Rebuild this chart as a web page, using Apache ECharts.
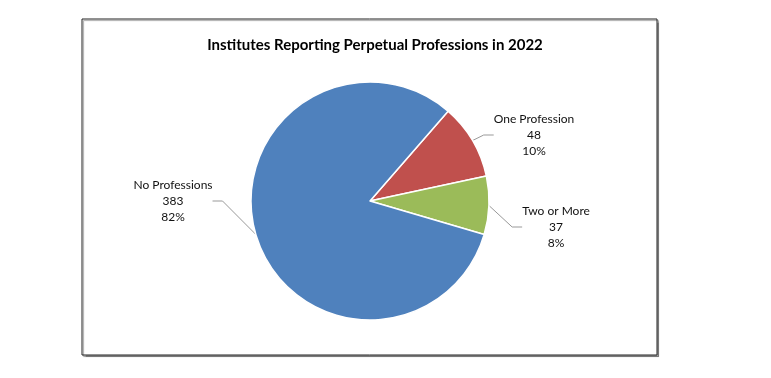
<!DOCTYPE html>
<html>
<head>
<meta charset="utf-8">
<script src="https://cdn.jsdelivr.net/npm/echarts@6/dist/echarts.min.js"></script>
<style>
  html, body { margin: 0; padding: 0; background: #fff; }
  #chart { width: 771px; height: 378px; }
</style>
</head>
<body>
<div id="chart"></div>
<script>
// Slices in the order the workbook draws them (clockwise from the blue/red edge)
const categories = ['One Profession', 'Two or More', 'No Professions'];
const counts = [48, 37, 383];
const sliceColors = ['#C0504D', '#9BBB59', '#4F81BD'];

// label anchor points (layout only)
const labelPos = [[534, 135], [556, 227], [173, 201]];

const chart = echarts.init(document.getElementById('chart'));
const FONT = 'Lato, "Open Sans", sans-serif';

chart.setOption({
  animation: false,
  title: {
    text: 'Institutes Reporting Perpetual Professions in 2022',
    left: 370, top: 33, textAlign: 'center',
    textStyle: { fontFamily: FONT, fontSize: 15, fontWeight: 'bold', color: '#000' },
  },
  graphic: [{
    type: 'rect', z: -10,
    shape: { x: 82, y: 19, width: 575, height: 336 },
    style: {
      fill: '#fff', stroke: '#222', lineWidth: 1,
      shadowColor: 'rgba(0,0,0,0.35)', shadowOffsetX: 1.5, shadowOffsetY: 1.5, shadowBlur: 1,
    },
  }],
  series: [{
    type: 'pie',
    center: [370, 201],
    radius: 119,
    startAngle: 49,
    clockwise: true,
    percentPrecision: 0,
    data: categories.map((c, i) => ({
      name: c, value: counts[i], itemStyle: { color: sliceColors[i] },
    })),
    itemStyle: { borderColor: '#fff', borderWidth: 1.5 },
    label: {
      show: true,
      formatter: '{b}\n{c}\n{d}%',
      fontFamily: FONT, fontSize: 12, lineHeight: 16, color: '#111',
      align: 'center',
    },
    labelLine: { show: true, lineStyle: { color: '#999', width: 1 }, length: 10, length2: 10 },
    labelLayout: (p) => ({
      x: labelPos[p.dataIndex][0],
      y: labelPos[p.dataIndex][1],
      align: 'center',
      verticalAlign: 'middle',
    }),
    emphasis: { disabled: true },
  }],
});
</script>
</body>
</html>
